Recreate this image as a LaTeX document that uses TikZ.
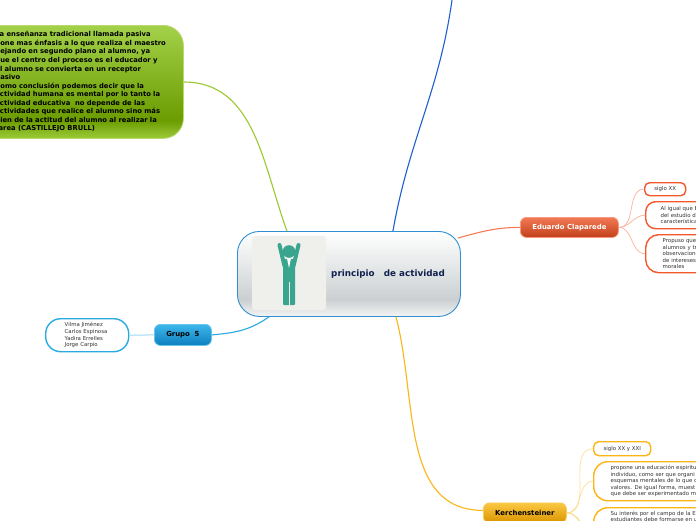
\documentclass[tikz,border=0pt]{standalone}
\usepackage{fontspec}
\setmainfont{DejaVu Sans}
\usepackage{xcolor}
\usepackage{tikz}
\usetikzlibrary{positioning,calc}
\definecolor{ink}{HTML}{333333}
\definecolor{rootink}{HTML}{10214F}
\definecolor{rootline}{HTML}{2F8FD0}
\definecolor{figpaper}{HTML}{EFF0EB}
\definecolor{figteal}{HTML}{3AA58F}
\definecolor{green}{HTML}{9CC92E}
\definecolor{orangered}{HTML}{F4572A}
\definecolor{skyblue}{HTML}{29ABE2}
\definecolor{amber}{HTML}{FBB515}
\definecolor{topblue}{HTML}{1F5FD0}
\definecolor{rootlow}{HTML}{F4F5F5}
\definecolor{rootgray}{HTML}{CBCFD1}
\definecolor{rootmid}{HTML}{DFE2E3}
\definecolor{greenlow}{HTML}{9CCB3A}
\definecolor{greendeep}{HTML}{6B9C00}
\definecolor{greentop}{HTML}{A3D14A}
\definecolor{redlow}{HTML}{C23F18}
\definecolor{redtop}{HTML}{F27A55}
\definecolor{bluelow}{HTML}{0D7FBF}
\definecolor{bluetop}{HTML}{3DB7EA}
\definecolor{amberlow}{HTML}{D99400}
\definecolor{ambertop}{HTML}{FBC843}
\pgfdeclareverticalshading{rootshade}{100bp}{color(0bp)=(rootlow);color(25bp)=(rootlow);color(35bp)=(rootgray);color(50bp)=(rootmid);color(75bp)=(white);color(100bp)=(white)}
\pgfdeclareverticalshading{greenshade}{100bp}{color(0bp)=(greenlow);color(25bp)=(greenlow);color(33bp)=(greendeep);color(75bp)=(greentop);color(100bp)=(greentop)}
\pgfdeclareverticalshading{redshade}{100bp}{color(0bp)=(redlow);color(25bp)=(redlow);color(75bp)=(redtop);color(100bp)=(redtop)}
\pgfdeclareverticalshading{blueshade}{100bp}{color(0bp)=(bluelow);color(25bp)=(bluelow);color(75bp)=(bluetop);color(100bp)=(bluetop)}
\pgfdeclareverticalshading{ambershade}{100bp}{color(0bp)=(amberlow);color(25bp)=(amberlow);color(75bp)=(ambertop);color(100bp)=(ambertop)}
\tikzset{
  root/.style={draw=rootline,rounded corners=22pt,shading=rootshade,line width=.9pt,minimum width=223pt,minimum height=85pt,anchor=north west},
  topic/.style={rounded corners=6pt,inner sep=0pt,line width=.8pt,font=\fontsize{6.9}{8}\selectfont\bfseries,anchor=north west},
  leaf/.style={draw=#1,fill=white,rounded corners=10pt,line width=1.4pt,inner sep=0pt,anchor=north west,align=left,text=ink,font=\fontsize{5.4}{6.55}\selectfont},
  link/.style={line width=1.1pt},
  twig/.style={line width=.7pt,color=#1!45},
}
\begin{document}
\begin{tikzpicture}[x=1pt,y=-1pt]
  \fill[white,use as bounding box] (0,0) rectangle (696,520);
  % central node
  \node[root] (centre) at (237,231) {};
  \node[fill=figpaper,rounded corners=3pt,minimum width=74pt,minimum height=74pt,inner sep=0pt,anchor=north west] (photo) at (252,236) {};
  \fill[figteal] (289,251.5) circle (6.3pt);
  \draw[figteal,line width=4pt,line cap=round] (279.5,245)--(284.5,266);
  \draw[figteal,line width=4pt,line cap=round] (298.5,245)--(293.5,266);
  \fill[figteal,rounded corners=1pt] (283,259)--(295,259)--(295,305)--(283,305)--cycle;
  \draw[figpaper,line width=.7pt] (289,282)--(289,306);
  \fill[white] (287,258.5)--(291,258.5)--(289,268)--cycle;
  \node[anchor=west,text=rootink,font=\fontsize{8.8}{10}\selectfont\bfseries,inner sep=0pt] (title) at (331,274) {principio\ \ \ de actividad};

  % main topics
  \node[topic,rounded corners=20pt,draw=green!70,shading=greenshade,minimum width=213pt,minimum height=113pt,text width=213pt,text=black,align=left,font=\fontsize{6.8}{8.55}\selectfont\bfseries] (notes) at (-30,25)
    {\hspace*{25pt}La enseñanza tradicional llamada pasiva\\
     \hspace*{25pt}pone mas énfasis a lo que realiza el maestro\\
     \hspace*{25pt}dejando en segundo plano al alumno, ya\\
     \hspace*{25pt}que el centro del proceso es el educador y\\
     \hspace*{25pt}el alumno se convierta en un receptor\\
     \hspace*{25pt}pasivo\\
     \hspace*{25pt}Como conclusión podemos decir que la\\
     \hspace*{25pt}actividad humana es mental por lo tanto la\\
     \hspace*{25pt}actividad educativa\ \ no depende de las\\
     \hspace*{25pt}actividades que realice el alumno sino más\\
     \hspace*{25pt}bien de la actitud del alumno al realizar la\\
     \hspace*{25pt}tarea (CASTILLEJO BRULL)};
  \node[topic,draw=orangered!60,shading=redshade,text=white,minimum width=98pt,minimum height=20pt] (claparede) at (520,217) {Eduardo Claparede};
  \node[topic,draw=skyblue!70,shading=blueshade,text=black,minimum width=57pt,minimum height=21pt] (grupo) at (154,324) {Grupo\ \ 5};
  \node[topic,draw=amber!70,shading=ambershade,text=black,minimum width=83pt,minimum height=20pt] (kersch) at (483,502.5) {Kerchensteiner};
  \coordinate (upper) at (452,0);

  % leaves
  \node[leaf=skyblue,minimum height=33pt,rounded corners=15pt,text width=83pt] (names) at (45,318)
    {\hspace*{19pt}Vilma Jiménez\\ \hspace*{19pt}Carlos Espinosa\\ \hspace*{19pt}Yadira Errelles\\ \hspace*{19pt}Jorge Carpio};
  \node[leaf=orangered,rounded corners=5pt,minimum width=41pt,minimum height=13pt,align=center] (sigloa) at (644,182) {siglo XX};
  \node[leaf=orangered,minimum height=27pt,text width=80pt] (igual) at (645,201)
    {\hspace*{15pt}Al igual que E\\ \hspace*{15pt}del estudio d\\ \hspace*{15pt}característica};
  \node[leaf=orangered,rounded corners=13pt,minimum height=38pt,text width=80pt] (propuso) at (645,234)
    {\hspace*{17pt}Propuso que\\ \hspace*{17pt}alumnos y tr\\ \hspace*{17pt}observacione\\ \hspace*{17pt}de intereses,\\ \hspace*{17pt}morales};
  \node[leaf=amber,rounded corners=5pt,minimum width=57pt,minimum height=14pt,align=center] (siglob) at (593,441) {siglo XX y XXI};
  \node[leaf=amber,rounded corners=14pt,minimum height=39pt,text width=140pt] (espiritu) at (593,461)
    {\hspace*{17pt}propone una educación espiritu\\ \hspace*{17pt}individuo, como ser que organi\\ \hspace*{17pt}esquemas mentales de lo que c\\ \hspace*{17pt}valores. De igual forma, muest\\ \hspace*{17pt}que debe ser experimentado m};
  \node[leaf=amber,rounded corners=14pt,minimum height=46pt,text width=140pt] (interes) at (593,507)
    {\hspace*{17pt}Su interés por el campo de la E\\ \hspace*{17pt}estudiantes debe formarse en u\\[22pt]\mbox{}};
  \coordinate (lowera) at (600,540);
  \coordinate (lowerb) at (600,570);

  % connectors from the central node
  \draw[link,green] (notes.east|-183,82) to[out=0,in=110] ([xshift=-62pt]centre.north);
  \draw[link,topblue] ([xshift=44pt]centre.north) to[out=80,in=262] (upper);
  \draw[link,orangered!80] ([xshift=-3pt,yshift=-7pt]centre.north east) to[out=15,in=180] (claparede.west);
  \draw[link,skyblue] ([xshift=-80pt]centre.south) to[out=215,in=5] (grupo.east);
  \draw[link,amber] ([xshift=47pt]centre.south) to[out=-75,in=180] ([yshift=2.5pt]kersch.west);

  % twigs
  \draw[twig=skyblue,line width=1pt] (grupo.west) -- (names.east);
  \foreach \leafname in {sigloa,igual,propuso}
    \draw[twig=orangered] (claparede.east) to[out=0,in=180] (\leafname.west);
  \foreach \leafname in {siglob,espiritu,interes}
    \draw[twig=amber] (kersch.east) to[out=0,in=180] (\leafname.west);
  \foreach \leafname in {lowera,lowerb}
    \draw[twig=amber] (kersch.east) to[out=0,in=180] (\leafname);
\end{tikzpicture}
\end{document}
